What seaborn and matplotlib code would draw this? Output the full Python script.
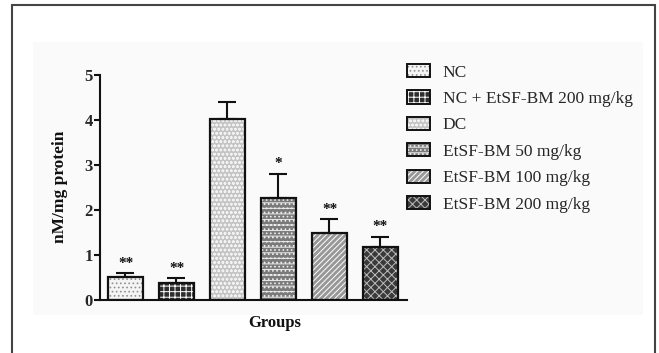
import matplotlib
matplotlib.use("Agg")
import matplotlib.pyplot as plt
import seaborn as sns
import pandas as pd
from matplotlib.patches import Rectangle, Patch

categories = ["NC", "NC + EtSF-BM 200 mg/kg", "DC", "EtSF-BM 50 mg/kg",
              "EtSF-BM 100 mg/kg", "EtSF-BM 200 mg/kg"]
means = [0.51, 0.37, 4.02, 2.27, 1.48, 1.17]
sems = [0.09, 0.11, 0.38, 0.54, 0.31, 0.24]
signif = ["**", "**", "", "*", "**", "**"]
yticks = [0, 1, 2, 3, 4, 5]

facecolors = ["#f4f4f4", "#2e2e2e", "#c4c4c4", "#7a7a7a", "#989898", "#3a3a3a"]
hatchcolors = ["#909090", "#ffffff", "#f2f2f2", "#ececec", "#ffffff", "#bdbdbd"]
hatches = ["....", "+++", "oooo", "---....", "//////", "xxxx"]

sns.set_style("ticks")
plt.rcParams["font.family"] = ["Liberation Serif", "DejaVu Serif"]
plt.rcParams["hatch.linewidth"] = 0.7

fig = plt.figure(figsize=(6.59, 3.53), dpi=100)
W, H = 659, 353

# outer frame and light panel
fig.patches.append(Rectangle((12 / W, -0.05), (655 - 12) / W, 1.05 - 5 / H,
                             transform=fig.transFigure, fill=False,
                             edgecolor="#444444", linewidth=1.5, zorder=-2))
fig.patches.append(Rectangle((33 / W, 1 - 315 / H), (643 - 33) / W, (315 - 42) / H,
                             transform=fig.transFigure, facecolor="#fafafa",
                             edgecolor="none", zorder=-2))

ax = fig.add_axes([100 / W, 1 - 300 / H, (407 - 100) / W, (300 - 75) / H])
ax.set_zorder(2)
ax.set_facecolor("none")

df = pd.DataFrame({"group": categories, "value": means})
sns.barplot(data=df, x="group", y="value", order=categories, width=0.69,
            errorbar=None, ax=ax, color="white")

bars = list(ax.patches)
handles = []
for i, p in enumerate(bars):
    p.set_facecolor(facecolors[i])
    p.set_edgecolor(hatchcolors[i])
    p.set_hatch(hatches[i])
    p.set_linewidth(0)
    outline = Rectangle((p.get_x(), p.get_y()), p.get_width(), p.get_height(),
                        fill=False, edgecolor="#111111", linewidth=1.6, zorder=3)
    ax.add_patch(outline)
    h1 = Patch(facecolor=facecolors[i], edgecolor=hatchcolors[i], hatch=hatches[i], linewidth=0)
    h2 = Patch(facecolor="none", edgecolor="#111111", linewidth=1.4)
    handles.append((h1, h2))

xs = [p.get_x() + p.get_width() / 2 for p in bars]
ax.errorbar(xs, means, yerr=[[0] * len(sems), sems], fmt="none",
            ecolor="#111111", elinewidth=1.5, capsize=6.5, capthick=1.5, zorder=2)

for x, m, s, t in zip(xs, means, sems, signif):
    if t:
        ax.text(x, m + s + 0.07, t, ha="center", va="bottom",
                fontsize=11, fontweight="bold", color="#111111")

ax.set_xlim(-0.5, 5.52)
ax.set_ylim(0, 5)
ax.set_yticks(yticks)
ax.set_yticklabels([str(v) for v in yticks], fontsize=12, fontweight="bold")
ax.set_xticks([])
ax.set_xlabel("")
ax.set_ylabel("")
sns.despine(ax=ax)
for s in ["left", "bottom"]:
    ax.spines[s].set_linewidth(1.5)
    ax.spines[s].set_color("#111111")
ax.tick_params(axis="y", length=4, width=1.5, pad=1, color="#111111")

fig.text(60 / W, 1 - 187 / H, "nM/mg protein", rotation=90, ha="center", va="center",
         fontsize=12.5, fontweight="bold", color="#111111")
fig.text(275 / W, 1 - 323 / H, "Groups", ha="center", va="center",
         fontsize=12, fontweight="bold", color="#111111")

fig.legend(handles, categories, loc="upper left",
           bbox_to_anchor=(407 / W, 1 - 64 / H), frameon=False,
           fontsize=12.5, handlelength=1.35, handleheight=0.8,
           handletextpad=0.7, labelspacing=0.56, borderpad=0, borderaxespad=0)

fig.savefig("out.png", dpi=100)
